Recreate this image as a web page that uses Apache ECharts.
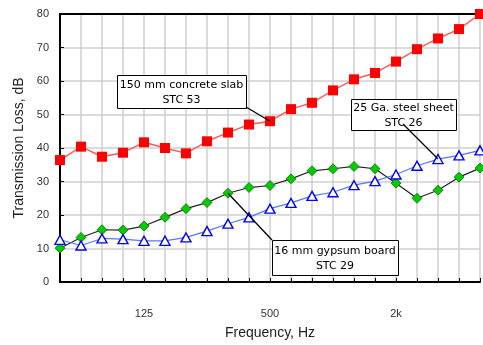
<!DOCTYPE html>
<html><head><meta charset="utf-8">
<script src="https://cdn.jsdelivr.net/npm/echarts@6/dist/echarts.min.js"></script>
<style>html,body{margin:0;padding:0;background:#fff}#c{width:483px;height:345px}</style>
</head><body><div id="c"></div>
<script>
const frequencies = ['50','63','80','100','125','160','200','250','315','400','500','630','800','1000','1250','1600','2000','2500','3150','4000','5000'];
const xTickLabels = ['','','','','125','','','','','','500','','','','','','2k','','','',''];
const concreteSlab = [36.4,40.4,37.4,38.6,41.7,40.0,38.4,42.0,44.6,47.0,48.0,51.6,53.5,57.2,60.5,62.4,65.8,69.5,72.7,75.5,80.0];
const steelSheet   = [12.6,10.9,13.0,12.8,12.3,12.3,13.3,15.2,17.4,19.3,21.9,23.6,25.7,26.8,28.9,30.1,32.1,34.7,36.7,37.8,39.3];
const gypsumBoard  = [10.1,13.3,15.6,15.5,16.7,19.3,21.9,23.7,26.5,28.2,28.8,30.8,33.2,33.8,34.5,33.8,29.5,25.0,27.4,31.3,34.0];
const annotationTexts = ['150 mm concrete slab\nSTC 53','25 Ga. steel sheet\nSTC 26','16 mm gypsum board\nSTC 29'];
const axisFont = 'Liberation Sans';

const chart = echarts.init(document.getElementById('c'), null, {renderer:'canvas'});
chart.setOption({
  animation:false,
  backgroundColor:'#fff',
  grid:{left:60, right:0, top:14, bottom:54, show:false},
  xAxis:[{
    type:'category', data:frequencies, boundaryGap:false,
    name:'Frequency, Hz', nameLocation:'middle', nameGap:44,
    nameTextStyle:{fontFamily:axisFont, fontSize:14, color:'#222'},
    axisLine:{lineStyle:{color:'#000', width:2}},
    axisTick:{show:true, inside:true, length:4, interval:0, lineStyle:{color:'#000'}},
    axisLabel:{interval:0, margin:16, padding:[10,0,0,0], fontFamily:axisFont, fontSize:11, color:'#333',
      formatter:(v,i)=>xTickLabels[i]},
    splitLine:{show:true, interval:0, lineStyle:{color:'#cfcfcf', width:1.5}}
  },{
    type:'category', data:frequencies, boundaryGap:false, position:'top',
    axisLine:{lineStyle:{color:'#000', width:2}}, axisTick:{show:false}, axisLabel:{show:false}
  }],
  yAxis:{
    type:'value', min:0, max:80, interval:10,
    name:'Transmission Loss, dB', nameLocation:'middle', nameGap:31,
    nameTextStyle:{fontFamily:axisFont, fontSize:14, color:'#222'},
    axisLine:{show:true, lineStyle:{color:'#000', width:2}},
    axisTick:{show:true, inside:true, length:4, lineStyle:{color:'#000'}},
    axisLabel:{fontFamily:axisFont, fontSize:11, color:'#333', margin:11},
    splitLine:{show:true, lineStyle:{color:'#cfcfcf', width:1.5}}
  },
  series:[
    {name:'concrete', type:'line', data:concreteSlab, symbol:'rect', symbolSize:10,
     lineStyle:{color:'#ff5a5a', width:1.5}, itemStyle:{color:'#ff0000', borderWidth:0}, z:3},
    {name:'gypsum', type:'line', data:gypsumBoard, symbol:'diamond', symbolSize:10,
     lineStyle:{color:'#222', width:1.2}, itemStyle:{color:'#00cc00', borderColor:'#116611', borderWidth:0.8}, z:4},
    {name:'steel', type:'line', data:steelSheet, symbol:'triangle', symbolSize:[10,9],
     lineStyle:{color:'#5577ff', width:1.2}, itemStyle:{color:'#ffffff', borderColor:'#0000ff', borderWidth:1.4}, z:5}
  ]
});

function pt(idx, arr){
  return chart.convertToPixel({xAxisIndex:0, yAxisIndex:0}, [idx, arr[idx]]);
}
const p1 = pt(10, concreteSlab);
const p2 = pt(18, steelSheet);
const p3 = pt(8, gypsumBoard);
const boxes = [
  {x:117, y:75, w:129, h:33, text:annotationTexts[0], from:[246,107], to:p1},
  {x:351, y:99, w:105, h:31, text:annotationTexts[1], from:[403,124], to:p2},
  {x:272, y:240, w:126, h:35, text:annotationTexts[2], from:[272,240], to:p3}
];
const g = [];
boxes.forEach(b=>{
  g.push({type:'rect', shape:{x:b.x+0.5, y:b.y+0.5, width:b.w, height:b.h}, style:{fill:'#fff', stroke:'#000', lineWidth:1}, z:10});
  g.push({type:'text', x:b.x+b.w/2, y:b.y+b.h/2+1, style:{text:b.text, fontFamily:'DejaVu Sans', fontSize:11, fill:'#000', align:'center', verticalAlign:'middle', lineHeight:15}, z:11});
  g.push({type:'line', shape:{x1:b.from[0], y1:b.from[1], x2:b.to[0], y2:b.to[1]}, style:{stroke:'#000', lineWidth:1.3}, z:12});
});
chart.setOption({graphic:g});
</script></body></html>
